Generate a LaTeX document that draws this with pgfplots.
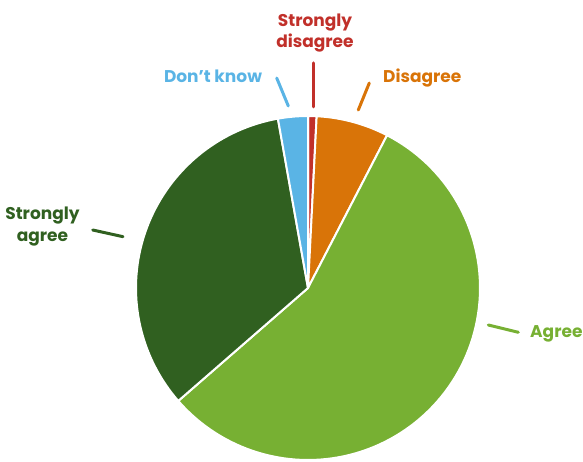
\documentclass[border=0pt]{standalone}
\usepackage{fontspec}
\setmainfont{Poppins}
\usepackage{pgfplots}
\usepackage{pgfplotstable}
\pgfplotsset{compat=1.18}
\definecolor{sdis}{HTML}{C1302A}
\definecolor{dis}{HTML}{D97408}
\definecolor{agr}{HTML}{77B033}
\definecolor{sagr}{HTML}{306020}
\definecolor{dk}{HTML}{5AB4E5}
\pgfplotstableread[col sep=comma]{
label,value
Strongly disagree,0.8
Disagree,6.8
Agree,56.0
Strongly agree,33.6
Don't know,2.8
}\pietable
\begin{document}
\begin{tikzpicture}
\pgfplotstablegetelem{0}{value}\of\pietable \let\va\pgfplotsretval
\pgfplotstablegetelem{1}{value}\of\pietable \let\vb\pgfplotsretval
\pgfplotstablegetelem{2}{value}\of\pietable \let\vc\pgfplotsretval
\pgfplotstablegetelem{3}{value}\of\pietable \let\vd\pgfplotsretval
\pgfplotstablegetelem{4}{value}\of\pietable \let\ve\pgfplotsretval
\pgfmathsetmacro\aA{90}
\pgfmathsetmacro\aB{\aA-3.6*\va}
\pgfmathsetmacro\aC{\aB-3.6*\vb}
\pgfmathsetmacro\aD{\aC-3.6*\vc}
\pgfmathsetmacro\aE{\aD-3.6*\vd}
\pgfmathsetmacro\aF{\aE-3.6*\ve}
\def\lab{\bfseries\fontsize{17}{20}\selectfont}
\begin{axis}[x=1pt,y=1pt,xmin=-308,xmax=275,ymin=-174,ymax=288,
  hide axis,clip=false,scale only axis]
\path (axis cs:-308,-174) (axis cs:275,288);
\addplot[fill=sdis,draw=white,line width=2pt,line join=round,data cs=polar,domain=\aB:\aA,samples=10] ({x},172) -- (axis cs:0,0) -- cycle;
\addplot[fill=dis,draw=white,line width=2pt,line join=round,data cs=polar,domain=\aC:\aB,samples=20] ({x},172) -- (axis cs:0,0) -- cycle;
\addplot[fill=agr,draw=white,line width=2pt,line join=round,data cs=polar,domain=\aD:\aC,samples=100] ({x},172) -- (axis cs:0,0) -- cycle;
\addplot[fill=sagr,draw=white,line width=2pt,line join=round,data cs=polar,domain=\aE:\aD,samples=70] ({x},172) -- (axis cs:0,0) -- cycle;
\addplot[fill=dk,draw=white,line width=2pt,line join=round,data cs=polar,domain=\aF:\aE,samples=10] ({x},172) -- (axis cs:0,0) -- cycle;
% leader lines
\addplot[sdis,line width=3pt,line cap=round] coordinates {(5,225) (5,181)};
\addplot[dk,line width=3pt,line cap=round] coordinates {(-31.3,210) (-19.7,182)};
\addplot[dis,line width=3pt,line cap=round] coordinates {(61.3,205) (50.3,178)};
\addplot[sagr,line width=3pt,line cap=round] coordinates {(-215.3,58) (-185,51.3)};
\addplot[agr,line width=3pt,line cap=round] coordinates {(180.3,-37) (210.3,-44.3)};
% labels
\node[sdis,anchor=base,font=\lab] at (axis cs:7,261) {Strongly};
\node[sdis,anchor=base,font=\lab] at (axis cs:7,240) {disagree};
\node[dk,anchor=base,font=\lab] at (axis cs:-95,205) {Don’t know};
\node[dis,anchor=base west,font=\lab,inner sep=0pt] at (axis cs:75,205) {Disagree};
\node[sagr,anchor=base,font=\lab] at (axis cs:-265.5,68) {Strongly};
\node[sagr,anchor=base,font=\lab] at (axis cs:-265.5,46) {agree};
\node[agr,anchor=base west,font=\lab,inner sep=0pt] at (axis cs:222,-50) {Agree};
\end{axis}
\end{tikzpicture}
\end{document}
